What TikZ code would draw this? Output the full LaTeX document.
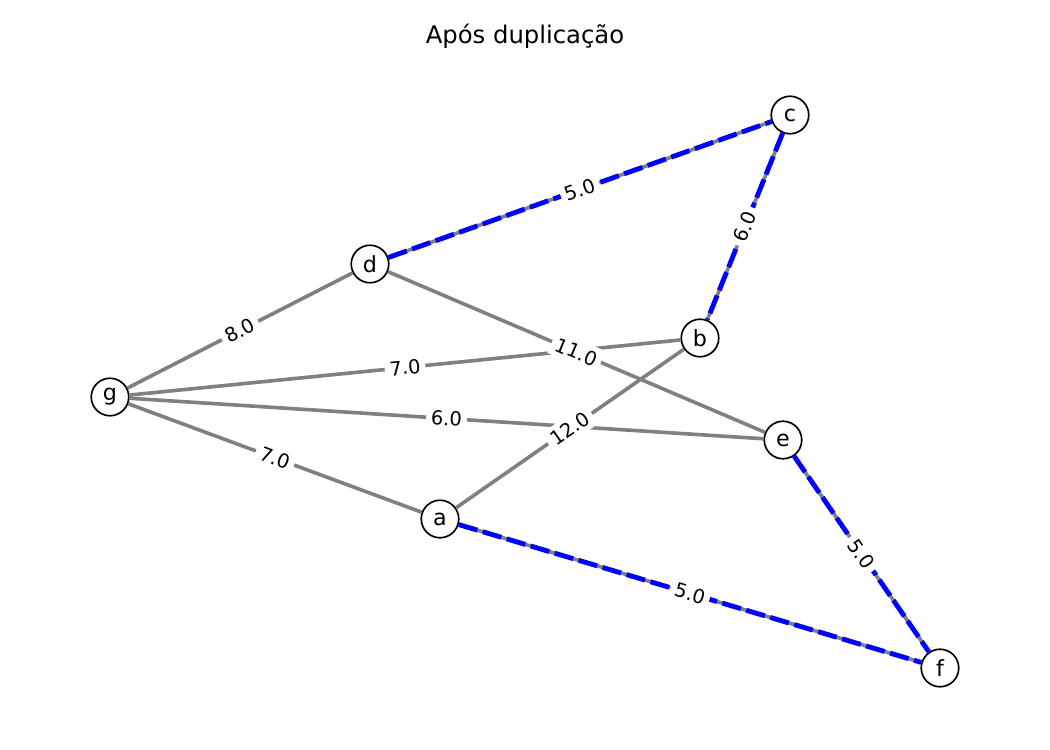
\documentclass[tikz,border=0pt]{standalone}
\usepackage{fontspec}
\setmainfont{DejaVu Sans}
\usetikzlibrary{positioning}
\definecolor{edgegray}{HTML}{808080}
\tikzstyle{vertex}=[draw=black,line width=1.2pt,fill=white,circle,minimum size=27pt,inner sep=0pt,font=\fontsize{16}{18}\selectfont]
\tikzstyle{edge}=[draw=edgegray,line width=2.6pt]
\tikzstyle{best}=[draw=blue,line width=3.5pt,dash pattern=on 14pt off 4pt]
\tikzstyle{weight}=[fill=white,inner sep=3.5pt,midway,sloped,font=\fontsize{14}{16}\selectfont]

\begin{document}
\begin{tikzpicture}[x=0.72pt,y=-0.72pt]
  \useasboundingbox (0,0) rectangle (1050,750);
  \node[font=\fontsize{17.5}{20}\selectfont] (title) at (525,36) {Após duplicação};
  % vertices
  \node[vertex] (a) at (440,519) {a};
  \node[vertex] (b) at (700,338) {b};
  \node[vertex] (c) at (790,115) {c};
  \node[vertex] (d) at (370,264) {d};
  \node[vertex] (e) at (783,440) {e};
  \node[vertex] (f) at (940,668) {f};
  \node[vertex] (g) at (110,397) {g};
  % edges
  \draw[edge] (g) -- (d);
  \draw[edge] (g) -- (b);
  \draw[edge] (g) -- (e);
  \draw[edge] (g) -- (a);
  \draw[edge] (d) -- (e);
  \draw[edge] (a) -- (b);
  \draw[edge] (d) -- (c);
  \draw[edge] (c) -- (b);
  \draw[edge] (a) -- (f);
  \draw[edge] (e) -- (f);
  % duplicated edges
  \draw[best] (d) -- (c);
  \draw[best] (c) -- (b);
  \draw[best] (a) -- (f);
  \draw[best] (e) -- (f);
  % weights
  \path (g) -- node[weight] {8.0} (d);
  \path (g) -- node[weight] {7.0} (b);
  \path (g) -- node[weight] {6.0} (e);
  \path (g) -- node[weight] {7.0} (a);
  \path (d) -- node[weight] {11.0} (e);
  \path (a) -- node[weight] {12.0} (b);
  \path (d) -- node[weight] {5.0} (c);
  \path (c) -- node[weight] {6.0} (b);
  \path (a) -- node[weight] {5.0} (f);
  \path (e) -- node[weight] {5.0} (f);
\end{tikzpicture}
\end{document}
